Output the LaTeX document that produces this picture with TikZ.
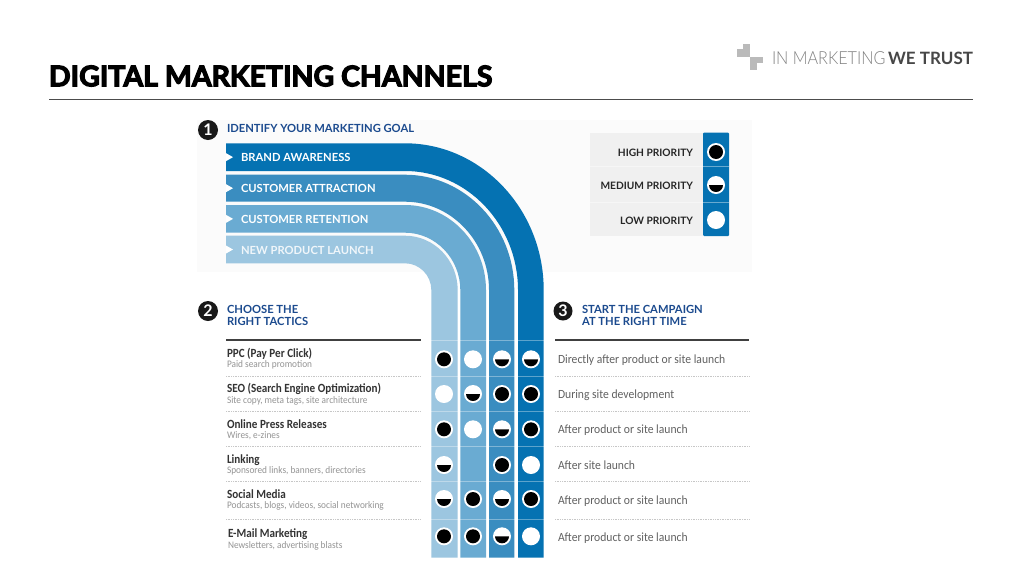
\documentclass[tikz,border=0pt]{standalone}
\usepackage{fontspec}
\setmainfont{Carlito}
\newfontfamily\titlefont[BoldFeatures={FakeBold=4}]{Lato}
\newfontfamily\capsfont{Lato}
\newfontfamily\brandfont[FakeStretch=.9]{Lato Light}
\newfontfamily\tacfont[FakeStretch=.89]{Carlito}
\newfontfamily\notefont[FakeStretch=.93]{Carlito}
\usepackage{tikz}
\usetikzlibrary{positioning}
\definecolor{bandone}{HTML}{0572B2}
\definecolor{bandtwo}{HTML}{3A8DC0}
\definecolor{bandthree}{HTML}{6AABD2}
\definecolor{bandfour}{HTML}{9CC6E0}
\definecolor{headblue}{HTML}{1B4A8E}
\tikzset{
base/.style={inner sep=0,outer sep=0},
titletext/.style={base,anchor=west,font=\titlefont\bfseries\fontsize{28.5}{28}\selectfont},
header/.style={base,anchor=west,align=left,text=headblue,font=\capsfont\bfseries\fontsize{11.2}{12}\selectfont},
bandlabel/.style={base,anchor=west,font=\capsfont\bfseries\fontsize{11.2}{12}\selectfont},
legendtext/.style={base,anchor=east,text=black!85,font=\capsfont\bfseries\fontsize{10.2}{12}\selectfont},
tactic/.style={base,anchor=west,align=left,text=black!80,font=\tacfont\fontsize{12.5}{10.5}\selectfont\bfseries},
timing/.style={base,anchor=west,text=black!62,font=\notefont\fontsize{12.5}{14}\selectfont},
badge/.style={base,circle,fill=black!90,text=white,minimum size=20pt,font=\capsfont\bfseries\fontsize{16}{16}\selectfont},
low/.style={base,circle,fill=white,minimum size=18pt},
high/.style={low,path picture={\fill[black] (path picture bounding box.center) circle (7pt);}},
med/.style={low,path picture={\fill[black] ([xshift=-7pt]path picture bounding box.center) arc[start angle=180,end angle=360,radius=7pt] -- cycle;}},
rowline/.style={black!22,densely dotted,line width=.7pt},
toprule/.style={black!75,line width=1.2pt}
}
\newcommand{\tacnote}[1]{{\mdseries\notefont\fontsize{10}{10}\selectfont\color{black!42}#1}}
% band: colour, top, bottom, left of column, right of column
\newcommand{\drawband}[5]{
\fill[#1] (226,#2) -- (405,#2) .. controls ({405+.55*(#5-405)},#2) and (#5,{290-.55*(290-#2)}) .. (#5,290)
 -- (#5,557.7) -- (#4,557.7) -- (#4,290) .. controls (#4,{290-.55*(290-#3)}) and ({405+.55*(#4-405)},#3) .. (405,#3)
 -- (226,#3) -- cycle;
\fill[white] (226,{(#2+#3)/2-4}) -- (233,{(#2+#3)/2}) -- (226,{(#2+#3)/2+4}) -- cycle;
}
\begin{document}
\begin{tikzpicture}[x=1pt,y=-1pt,node distance=11pt]
\useasboundingbox (0,0) rectangle (1024,576);
\fill[white] (0,0) rectangle (1024,576);
\fill[black!1.5] (197,120) rectangle (752,272);

% head of the slide
\node[titletext] (title) at (49,76) {DIGITAL MARKETING CHANNELS};
\draw[black!70,line width=1pt] (49,99) -- (973,99);
\fill[black!27] (743.3,44.3) rectangle (750,56.7);
\fill[black!27] (737.3,49.3) rectangle (743.3,56.7);
\fill[black!27] (750,56.7) rectangle (763.3,63.3);
\fill[black!27] (750,63.3) rectangle (756.7,70);
\node[base,anchor=west,text=black!50,font=\brandfont\fontsize{18}{18}\selectfont] (brand) at (772,58) {IN MARKETING};
\node[base,anchor=east,text=black!72,font=\capsfont\bfseries\fontsize{17}{18}\selectfont] (trust) at (973,58) {WE TRUST};

% the four goals
\drawband{bandone}{143.3}{171}{518}{543.7}
\drawband{bandtwo}{174.7}{201.7}{489}{514.3}
\drawband{bandthree}{205}{232.7}{460.3}{486}
\drawband{bandfour}{235.7}{263.3}{431.3}{457.7}
\draw[white,opacity=.35,line width=.7pt] (431,340) -- (544,340);
\draw[white,opacity=.35,line width=.7pt] (431,376.7) -- (544,376.7);
\draw[white,opacity=.35,line width=.7pt] (431,411.7) -- (544,411.7);
\draw[white,opacity=.35,line width=.7pt] (431,446.7) -- (544,446.7);
\draw[white,opacity=.35,line width=.7pt] (431,481.7) -- (544,481.7);
\draw[white,opacity=.35,line width=.7pt] (431,519) -- (544,519);

\node[badge] (one) at (208,130) {1};
\node[header] (goal) at (227,128.3) {IDENTIFY YOUR MARKETING GOAL};
\node[bandlabel,text=white] (brandaw) at (241,157.8) {BRAND AWARENESS};
\node[bandlabel,text=white] (attract) at (241,188.3) {CUSTOMER ATTRACTION};
\node[bandlabel,text=white] (retain) at (241,219.8) {CUSTOMER RETENTION};
\node[bandlabel,text=white!85!bandfour] (launch) at (241,250.3) {NEW PRODUCT LAUNCH};

% legend
\fill[black!6] (590,132.7) rectangle (703,236);
\fill[bandone,rounded corners=1pt] (703,132.7) rectangle (729,236);
\draw[white,opacity=.4] (590,165.7) -- (729,165.7);
\draw[white,opacity=.4] (590,201.7) -- (729,201.7);
\node[legendtext] (highlab) at (693,153) {HIGH PRIORITY};
\node[legendtext] (medlab) at (693,186) {MEDIUM PRIORITY};
\node[legendtext] (lowlab) at (693,221) {LOW PRIORITY};
\node[high] (highdot) at (716,152) {};
\node[med] (meddot) at (716,185) {};
\node[low] (lowdot) at (716,220) {};

% tactics
\node[badge] (two) at (208,311) {2};
\node[header] (choose) at (227,315.2) {CHOOSE THE\\RIGHT TACTICS};
\draw[toprule] (226,340) -- (421,340);
\node[tactic] (ppc) at (227,358.5) {PPC (Pay Per Click)\\\tacnote{Paid search promotion}};
\node[tactic] (seo) at (227,394) {SEO (Search Engine Optimization)\\\tacnote{Site copy, meta tags, site architecture}};
\node[tactic] (press) at (227,429.5) {Online Press Releases\\\tacnote{Wires, e-zines}};
\node[tactic] (link) at (227,465) {Linking\\\tacnote{Sponsored links, banners, directories}};
\node[tactic] (social) at (227,500) {Social Media\\\tacnote{Podcasts, blogs, videos, social networking}};
\node[tactic] (mail) at (228,539.5) {E-Mail Marketing\\\tacnote{Newsletters, advertising blasts}};
\draw[rowline] (226,376.7) -- (421,376.7);
\draw[rowline] (226,411.7) -- (421,411.7);
\draw[rowline] (226,446.7) -- (421,446.7);
\draw[rowline] (226,481.7) -- (421,481.7);
\draw[rowline] (226,519) -- (421,519);

% priorities, row by row
\node[high] (a1) at (444,359.3) {};
\node[low,right=of a1] (a2) {};
\node[med,right=of a2] (a3) {};
\node[med,right=of a3] (a4) {};
\node[low] (b1) at (444,394) {};
\node[med,right=of b1] (b2) {};
\node[high,right=of b2] (b3) {};
\node[high,right=of b3] (b4) {};
\node[high] (c1) at (444,429.3) {};
\node[low,right=of c1] (c2) {};
\node[med,right=of c2] (c3) {};
\node[high,right=of c3] (c4) {};
\node[med] (d1) at (444,465) {};
\node[high] (d3) at (502,465) {};
\node[low,right=of d3] (d4) {};
\node[med] (e1) at (444,499) {};
\node[high,right=of e1] (e2) {};
\node[med,right=of e2] (e3) {};
\node[high,right=of e3] (e4) {};
\node[high] (f1) at (444,536.3) {};
\node[high,right=of f1] (f2) {};
\node[med,right=of f2] (f3) {};
\node[low,right=of f3] (f4) {};

% timing
\node[badge,minimum size=19pt] (three) at (563,311) {3};
\node[header] (start) at (582,315.2) {START THE CAMPAIGN\\AT THE RIGHT TIME};
\draw[toprule] (555,340) -- (749,340);
\node[timing] (t1) at (558,360.5) {Directly after product or site launch};
\node[timing] (t2) at (558,395.5) {During site development};
\node[timing] (t3) at (558,430.5) {After product or site launch};
\node[timing] (t4) at (558,465.5) {After site launch};
\node[timing] (t5) at (558,501) {After product or site launch};
\node[timing] (t6) at (558,538.5) {After product or site launch};
\draw[rowline] (555,376.7) -- (749,376.7);
\draw[rowline] (555,411.7) -- (749,411.7);
\draw[rowline] (555,446.7) -- (749,446.7);
\draw[rowline] (555,481.7) -- (749,481.7);
\draw[rowline] (555,519) -- (749,519);
\end{tikzpicture}
\end{document}
